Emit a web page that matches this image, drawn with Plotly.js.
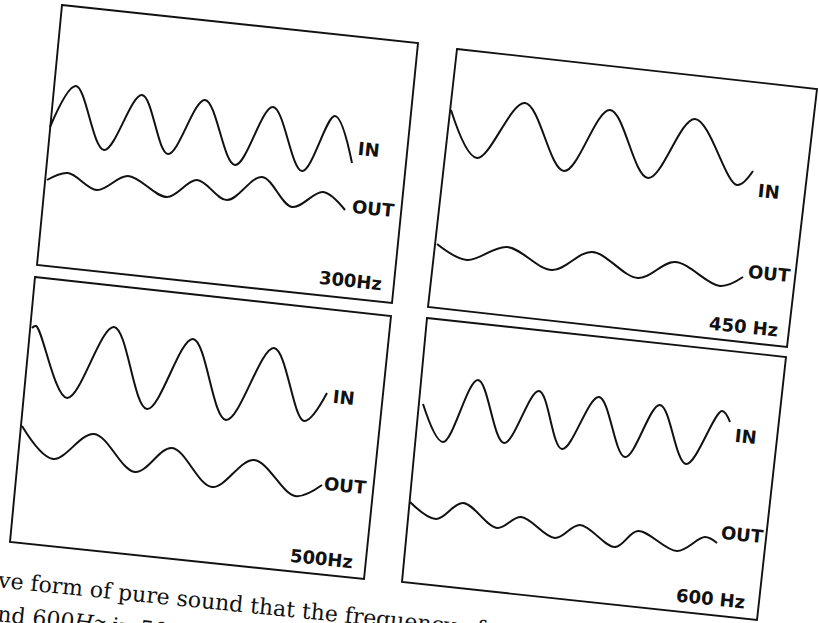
<!DOCTYPE html>
<html><head><meta charset="utf-8">
<script src="https://cdn.plot.ly/plotly-3.0.1.min.js"></script>
<style>html,body{margin:0;padding:0;background:#fff;overflow:hidden}#chart{width:819px;height:623px}</style>
</head><body><div id="chart"></div>
<script>
// ---- data read from the scanned page (page coordinates, x right, y down) ----
const panelNames = ['300Hz', '450 Hz', '500Hz', '600 Hz'];

// frame corners of each oscilloscope panel: TL, TR, BR, BL
const frame300X = [62, 418, 392, 37];
const frame300Y = [5, 43, 303, 265];
const frame450X = [457, 817, 787, 428];
const frame450Y = [49, 89, 347, 307];
const frame500X = [35, 391, 364, 10];
const frame500Y = [277, 316, 579, 542];
const frame600X = [427, 786, 757, 402];
const frame600Y = [318, 357, 620, 582];

// waveform turning points (start, peaks / troughs, end)
const in300X  = [50, 76, 104, 142, 168, 205, 235, 273, 302, 335, 352];
const in300Y  = [127, 86, 150, 95, 154, 100, 165, 107, 171, 116, 163];
const out300X = [47, 68, 97, 128, 167, 197, 227, 262, 292, 323, 345];
const out300Y = [180, 173, 190, 176, 197, 180, 200, 177, 207, 192, 210];

const in450X  = [451, 477, 525, 564, 610, 648, 695, 737, 753];
const in450Y  = [110, 158, 103, 171, 110, 178, 119, 185, 171];
const out450X = [437, 467, 507, 552, 592, 638, 675, 720, 743];
const out450Y = [244, 260, 247, 270, 252, 278, 262, 286, 277];

const in500X  = [32, 36, 67, 114, 147, 193, 226, 274, 304, 327];
const in500Y  = [328, 326, 398, 327, 409, 339, 420, 348, 421, 393];
const out500X = [22, 53, 94, 135, 172, 212, 254, 295, 322];
const out500Y = [426, 459, 434, 472, 448, 487, 460, 496, 485];

const in600X  = [423, 443, 478, 504, 539, 562, 599, 625, 660, 686, 722, 730];
const in600Y  = [404, 442, 380, 443, 391, 449, 397, 457, 405, 464, 411, 422];
const out600X = [410, 436, 463, 497, 521, 555, 580, 615, 638, 677, 705, 717];
const out600Y = [502, 519, 503, 528, 517, 538, 525, 547, 531, 551, 537, 543];

const curveNames = ['IN', 'OUT'];

// ---- layout helpers ----
const TILT = 5.8; // scan rotation, degrees clockwise
const ink = '#111';

const waves = [
  [in300X, in300Y], [out300X, out300Y],
  [in450X, in450Y], [out450X, out450Y],
  [in500X, in500Y], [out500X, out500Y],
  [in600X, in600Y], [out600X, out600Y]
];

const traces = waves.map(w => ({
  type: 'scatter', mode: 'lines', x: w[0], y: w[1],
  line: {color: ink, width: 2, shape: 'spline', smoothing: 1},
  hoverinfo: 'skip', showlegend: false
}));

const frames = [[frame300X, frame300Y], [frame450X, frame450Y], [frame500X, frame500Y], [frame600X, frame600Y]];
const shapes = frames.map(f => ({
  type: 'path', xref: 'x', yref: 'y',
  path: 'M' + f[0].map((x, i) => x + ',' + f[1][i]).join('L') + 'Z',
  line: {color: ink, width: 1.9}, fillcolor: 'rgba(0,0,0,0)'
}));

// label anchor points (centres) on the page
const namePos = [[350, 280], [743, 326], [321, 558], [710, 598]];
const inPos = [[369, 149], [769, 191], [344, 397], [746, 436]];
const outPos = [[373, 208], [769, 273], [345, 485], [742, 534]];

const labFont = {family: 'DejaVu Sans, Arial, sans-serif', size: 18, color: ink, weight: 'bold'};
const annotations = [];
panelNames.forEach((n, i) => {
  annotations.push({x: namePos[i][0], y: namePos[i][1], xref: 'x', yref: 'y', text: '<b>' + n + '</b>',
    showarrow: false, textangle: TILT, font: labFont, xanchor: 'center', yanchor: 'middle'});
  annotations.push({x: inPos[i][0], y: inPos[i][1], xref: 'x', yref: 'y', text: '<b>' + curveNames[0] + '</b>',
    showarrow: false, textangle: TILT, font: labFont, xanchor: 'center', yanchor: 'middle'});
  annotations.push({x: outPos[i][0], y: outPos[i][1], xref: 'x', yref: 'y', text: '<b>' + curveNames[1] + '</b>',
    showarrow: false, textangle: TILT, font: labFont, xanchor: 'center', yanchor: 'middle'});
});

// caption fragments visible at the bottom of the scan
const captionLines = ['ve form of pure sound that the frequency of a', 'nd 600<i>Hz</i> in 50m'];
const capPlain = ['ve form of pure sound that the frequency of a', 'nd 600Hz in 50m'];
const capFontSize = 22;
const capFamily = 'DejaVu Serif, Liberation Serif, serif';
const capStart = [[-2, 580], [-3, 614]];
const ctx = document.createElement('canvas').getContext('2d');
ctx.font = capFontSize + 'px "DejaVu Serif"';
const th = TILT * Math.PI / 180;
captionLines.forEach((t, i) => {
  const w = ctx.measureText(capPlain[i]).width;
  const cy = capStart[i][1] + w / 2 * Math.sin(th);
  const ay = Math.min(cy, 600);           // keep the anchor inside the axis range
  annotations.push({
    x: capStart[i][0] + w / 2 * Math.cos(th), y: ay, yshift: -(cy - ay),
    xref: 'x', yref: 'y', text: t, showarrow: false, textangle: TILT,
    font: {family: capFamily, size: capFontSize, color: ink}, xanchor: 'center', yanchor: 'middle'
  });
});

const layout = {
  width: 819, height: 623,
  margin: {l: 0, r: 0, t: 0, b: 0},
  paper_bgcolor: '#fff', plot_bgcolor: '#fff',
  xaxis: {range: [0, 819], visible: false, fixedrange: true},
  yaxis: {range: [623, 0], visible: false, fixedrange: true},
  shapes: shapes, annotations: annotations, showlegend: false
};

Plotly.newPlot('chart', traces, layout, {staticPlot: true, displayModeBar: false});
</script></body></html>
